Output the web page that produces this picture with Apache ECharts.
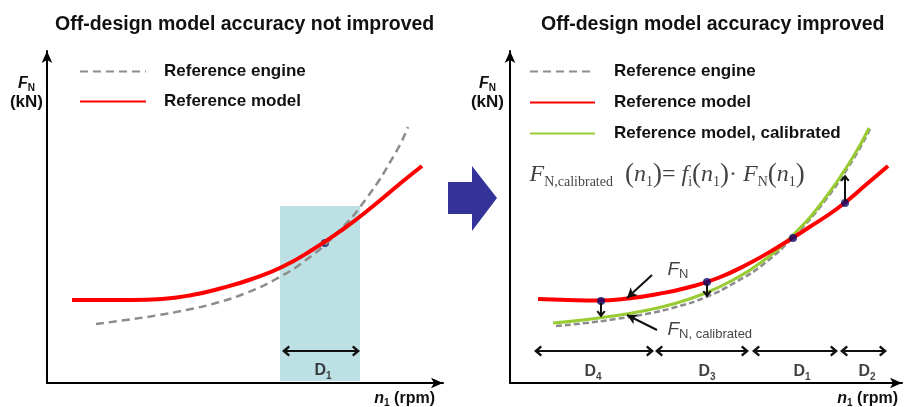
<!DOCTYPE html>
<html><head><meta charset="utf-8">
<script src="https://cdn.jsdelivr.net/npm/echarts@6/dist/echarts.min.js"></script>
<style>html,body{margin:0;padding:0;background:#fff}#c{width:908px;height:407px}</style>
</head><body><div id="c"></div>
<script>
// ---------- data (arbitrary units) ----------
// Left panel
const leftEngine = [[49,59],[79,63],[109,67.5],[139,73],[169,80],[199,90],[229,104],[259,123],[289,149],[319,184],[349,231],[361,256]];
const leftModel  = [[25,83],[55,83],[85,83],[115,84],[145,88],[175,95],[205,104],[235,116],[265,133],[295,153],[325,176],[355,201],[375,217]];
const leftDots   = [[278,140]];
const leftRegion = [[233,2],[313,177]];
const leftSpanNames = ['D1'];
const leftSpanFrom  = [239];
const leftSpanTo    = [309];
const leftSpanY     = 32;
const leftSpanLabelPos = [[276,12]];

// Right panel
const rightEngine     = [[46,57],[76,60],[106,64],[136,69],[166,76],[196,86],[225,100.5],[255,120],[284,147],[314,181],[344,225],[360,254]];
const rightModel      = [[28,84],[58,83],[88,82.5],[118,84.5],[148,89],[178,95.5],[208,105],[238,119],[268,136],[298,155],[328,175],[358,200],[378,217]];
const rightCalibrated = [[43,60],[73,63],[103,67],[133,72],[163,79],[193,89],[223,103],[253,122],[283,148],[313,182],[343,226],[359,255]];
const rightDots       = [[91,82],[197,101],[283,145],[335,180]];
const corrections     = [[[91,80],[91,69]],[[197,99],[197,89]],[[335,182],[335,205]]];
const pointers        = [[[142,108],[117,85]],[[147,53],[117,68]]];
const rightSpanNames  = ['D4','D3','D1','D2'];
const rightSpanFrom   = [28,149,246,334];
const rightSpanTo     = [140,235,324,373];
const rightSpanY      = 32;
const rightSpanLabelPos = [[83,11],[197,11],[292,11],[357,11]];
const formulaPos = [14,208];
const fnLabelPos = [152,113];
const fnCalLabelPos = [152,53];

const legendLeft  = ['Reference engine','Reference model'];
const legendRight = ['Reference engine','Reference model','Reference model, calibrated'];
const titles = ['Off-design model accuracy not improved','Off-design model accuracy improved'];

// ---------- styles ----------
const SANS = '"Liberation Sans", Arial, Helvetica, sans-serif';
const SERIF = '"Liberation Serif", "Times New Roman", serif';
const INK = '#111';
const CHEV = 'path://M5,0L10,7L8.3,8.6L5,4.2L1.7,8.6L0,7Z';
const NOFILL = {color:'rgba(0,0,0,0)', borderWidth:0, borderColor:'rgba(0,0,0,0)'};

const RICH = {
  dl:   {fontFamily:SANS, fontWeight:'bold', fontSize:16, lineHeight:20, color:INK},
  dsub: {fontFamily:SANS, fontWeight:'bold', fontSize:10, lineHeight:10, verticalAlign:'bottom', color:INK},
  ai:   {fontFamily:SANS, fontStyle:'italic', fontSize:19, lineHeight:22, color:INK},
  asub: {fontFamily:SANS, fontSize:13, lineHeight:12, verticalAlign:'bottom', color:INK},
  mi:   {fontFamily:SERIF, fontStyle:'italic', fontSize:24, lineHeight:28, color:INK},
  mr:   {fontFamily:SERIF, fontSize:24, lineHeight:28, color:INK},
  mp:   {fontFamily:SERIF, fontSize:27, lineHeight:28, color:INK},
  msub: {fontFamily:SERIF, fontSize:14, lineHeight:12, verticalAlign:'bottom', color:INK}
};
const YNAME_RICH = {
  yn: {fontFamily:SANS, fontWeight:'bold', fontStyle:'italic', fontSize:16, lineHeight:18, align:'center', color:INK},
  ys: {fontFamily:SANS, fontWeight:'bold', fontSize:10, lineHeight:10, verticalAlign:'bottom', align:'center', color:INK},
  yk: {fontFamily:SANS, fontWeight:'bold', fontSize:17, lineHeight:19, align:'center', color:INK}
};
const XNAME_RICH = {
  xn: {fontFamily:SANS, fontWeight:'bold', fontStyle:'italic', fontSize:16, lineHeight:18, color:INK},
  xs: {fontFamily:SANS, fontWeight:'bold', fontSize:10, lineHeight:10, verticalAlign:'bottom', color:INK},
  xr: {fontFamily:SANS, fontWeight:'bold', fontSize:16, lineHeight:18, color:INK}
};

const spanText = n => `{dl|D}{dsub|${n.slice(1)}}`;
const FORMULA = '{mi|F}{msub|N,calibrated}{mr|  }{mp|(}{mi|n}{msub|1}{mp|)}{mr|= }{mi|f}{msub|i}{mp|(}{mi|n}{msub|1}{mp|)}{mr|· }{mi|F}{msub|N}{mp|(}{mi|n}{msub|1}{mp|)}';

function axisPair(gi, xmax, ymax, xGap, yPadRight) {
  const line = {show:true, onZero:false, symbol:['none','arrow'], symbolSize:[8,12], lineStyle:{color:'#000', width:2}};
  return {
    x: {gridIndex:gi, type:'value', min:0, max:xmax, axisLine:line, axisTick:{show:false}, axisLabel:{show:false}, splitLine:{show:false},
        name:'{xn|n}{xs|1}{xr| (rpm)}', nameLocation:'end', nameGap:xGap,
        nameTextStyle:{align:'right', verticalAlign:'top', padding:[7,0,0,0], rich:XNAME_RICH}},
    y: {gridIndex:gi, type:'value', min:0, max:ymax, axisLine:line, axisTick:{show:false}, axisLabel:{show:false}, splitLine:{show:false},
        name:'{yn|F}{ys|N}\n{yk|(kN)}', nameLocation:'end', nameGap:-24,
        nameTextStyle:{align:'right', verticalAlign:'top', padding:[0,yPadRight,0,0], rich:YNAME_RICH}}
  };
}
const a0 = axisPair(0, 396, 332, -8, 4);
const a1 = axisPair(1, 392, 332, -4, 6);

function spanLines(from, to, y) {
  return from.map((f,i)=>[
    {coord:[f,y], symbol:CHEV, symbolSize:[11,8]},
    {coord:[to[i],y], symbol:CHEV, symbolSize:[11,8]}
  ]);
}
function labelItems(pos, texts, position) {
  return pos.map((p,i)=>({value:p, label:{show:true, formatter:texts[i], position:position}}));
}
const labelSeriesBase = {type:'scatter', symbol:'circle', symbolSize:1, itemStyle:{color:'rgba(0,0,0,0)'}, silent:true,
  label:{show:true, rich:RICH}, emphasis:{disabled:true}};
const mlBase = {silent:true, animation:false, label:{show:false}, emphasis:{disabled:true}, lineStyle:{color:INK, width:2, type:'solid'}};
const curve = {type:'line', smooth:0.5, symbol:'none', itemStyle:NOFILL, emphasis:{disabled:true}};

const option = {
  animation:false,
  backgroundColor:'#fff',
  textStyle:{fontFamily:SANS},
  title:[
    {text:titles[0], left:55, top:15, padding:0, textStyle:{fontFamily:SANS, fontWeight:'bold', fontSize:19.5, lineHeight:20, color:INK}},
    {text:titles[1], left:541, top:15, padding:0, textStyle:{fontFamily:SANS, fontWeight:'bold', fontSize:19.5, lineHeight:20, color:INK}}
  ],
  legend:[
    {data:legendLeft, left:79, top:63, orient:'vertical', padding:0, itemWidth:66, itemHeight:14, itemGap:13, selectedMode:false,
     itemStyle:NOFILL,
     textStyle:{fontFamily:SANS, fontWeight:'bold', fontSize:17, lineHeight:14, color:INK, padding:[0,0,0,13]}},
    {data:legendRight, left:529, top:63, orient:'vertical', padding:0, itemWidth:65, itemHeight:14, itemGap:14, selectedMode:false,
     itemStyle:NOFILL,
     textStyle:{fontFamily:SANS, fontWeight:'bold', fontSize:17, lineHeight:14, color:INK, padding:[0,0,0,14]}}
  ],
  grid:[
    {left:47, top:51, width:396, height:332, outerBoundsMode:'none', containLabel:false},
    {left:510, top:51, width:392, height:332, outerBoundsMode:'none', containLabel:false}
  ],
  xAxis:[a0.x, a1.x],
  yAxis:[a0.y, a1.y],
  series:[
    // ---- left panel ----
    Object.assign({}, curve, {name:'Reference engine', xAxisIndex:0, yAxisIndex:0, data:leftEngine,
     lineStyle:{color:'#8c8c8c', width:2.5, type:[8,5]},
     markArea:{silent:true, itemStyle:{color:'#bce0e3'}, label:{show:false}, data:[[{coord:leftRegion[0]},{coord:leftRegion[1]}]]}}),
    Object.assign({}, curve, {name:'Reference model', xAxisIndex:0, yAxisIndex:0, data:leftModel,
     lineStyle:{color:'#ff0000', width:4}}),
    {type:'scatter', xAxisIndex:0, yAxisIndex:0, data:leftDots, symbolSize:8, itemStyle:{color:'#0b0b6e'}, silent:true},
    Object.assign({}, labelSeriesBase, {xAxisIndex:0, yAxisIndex:0,
      data:labelItems(leftSpanLabelPos, leftSpanNames.map(spanText), 'inside'),
      markLine:Object.assign({}, mlBase, {data:spanLines(leftSpanFrom, leftSpanTo, leftSpanY)})}),
    // ---- right panel ----
    Object.assign({}, curve, {name:'Reference engine', xAxisIndex:1, yAxisIndex:1, data:rightEngine,
     lineStyle:{color:'#8c8c8c', width:2.5, type:[6,3]}}),
    Object.assign({}, curve, {name:'Reference model, calibrated', xAxisIndex:1, yAxisIndex:1, data:rightCalibrated,
     lineStyle:{color:'#99cc33', width:3}}),
    Object.assign({}, curve, {name:'Reference model', xAxisIndex:1, yAxisIndex:1, data:rightModel,
     lineStyle:{color:'#ff0000', width:4}}),
    {type:'scatter', xAxisIndex:1, yAxisIndex:1, data:rightDots, symbolSize:8, itemStyle:{color:'#0b0b6e'}, silent:true, z:3},
    Object.assign({}, labelSeriesBase, {xAxisIndex:1, yAxisIndex:1,
      data:labelItems(rightSpanLabelPos, rightSpanNames.map(spanText), 'inside')
        .concat(labelItems([formulaPos, fnLabelPos, fnCalLabelPos],
          [FORMULA, '{ai|F}{asub|N}', '{ai|F}{asub|N, calibrated}'], 'right')),
      markLine:Object.assign({}, mlBase, {
        data: spanLines(rightSpanFrom, rightSpanTo, rightSpanY)
          .concat(corrections.map(c=>[{coord:c[0], symbol:'none'},{coord:c[1], symbol:CHEV, symbolSize:[9,7]}]))
          .concat(pointers.map(p=>[{coord:p[0], symbol:'none'},{coord:p[1], symbol:'arrow', symbolSize:[8,10]}]))
      })})
  ],
  graphic:[
    {type:'polygon', silent:true,
     shape:{points:[[448,182],[472,182],[472,166],[497,198],[472,231],[472,214],[448,214]]},
     style:{fill:'#333399'}}
  ]
};
const chart = echarts.init(document.getElementById('c'), null, {renderer:'canvas'});
chart.setOption(option);
</script>
</body></html>
